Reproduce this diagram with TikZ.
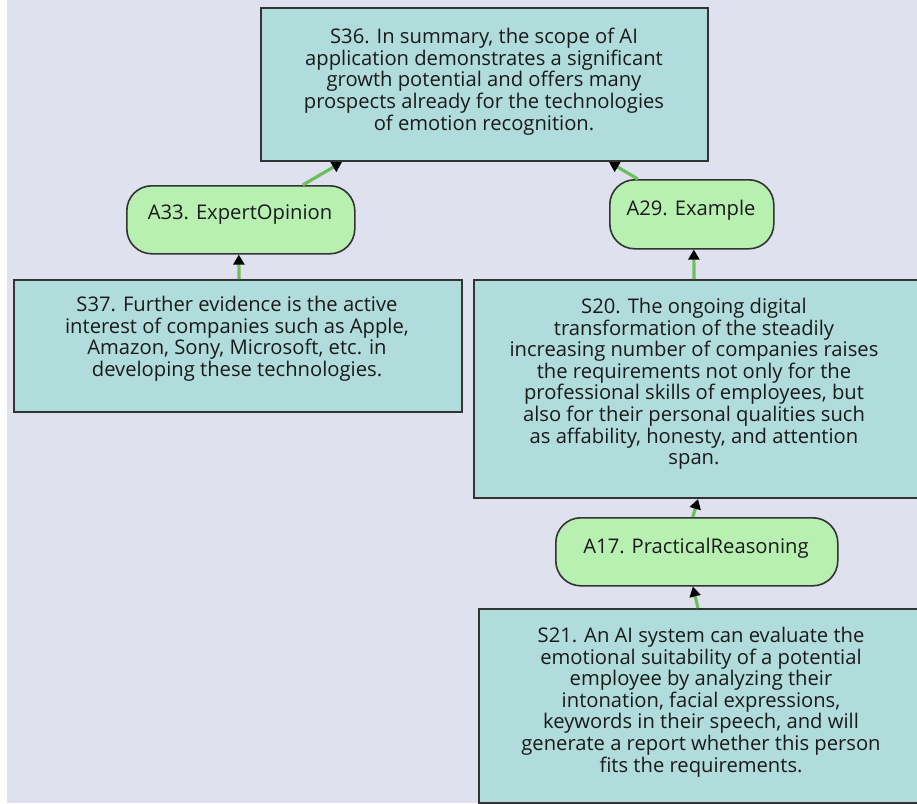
\documentclass[tikz,border=0pt]{standalone}
\usepackage{fontspec}
\setmainfont{Open Sans}
\usetikzlibrary{arrows.meta,calc}
\definecolor{bgcol}{HTML}{DFE2EE}
\definecolor{stmtfill}{HTML}{B1DCDC}
\definecolor{argfill}{HTML}{B8F0B2}
\definecolor{edgecol}{HTML}{6CC05C}
\definecolor{linecol}{HTML}{333333}
\definecolor{txtcol}{HTML}{1A1A1A}
\tikzset{
  stmtbox/.style={draw=linecol, line width=2pt, fill=stmtfill, rectangle, inner sep=0pt},
  argbox/.style={draw=linecol, line width=1.6pt, fill=argfill, rectangle, rounded corners=25pt, inner sep=0pt},
  stmttext/.style={align=center, anchor=north, text=txtcol, inner sep=0pt,
    font=\fontsize{20.2pt}{21.6pt}\selectfont},
  argtext/.style={text=txtcol, inner sep=0pt, font=\fontsize{20.2pt}{21.6pt}\selectfont},
  conn/.style={draw=edgecol, line width=3.2pt, -{Triangle[length=10pt,width=11pt,color=black]}},
}
\begin{document}
\begin{tikzpicture}[x=1pt,y=-1pt]
\useasboundingbox (0,0) rectangle (917,803);
\fill[white] (0,0) rectangle (917,803);
\fill[bgcol] (7,0) rectangle (917,803);

% statement boxes
\node[stmtbox, anchor=north west, minimum width=447pt, minimum height=153pt] (s36) at (260,7) {};
\node[stmtbox, anchor=north west, minimum width=448pt, minimum height=132pt] (s37) at (13,279) {};
\node[stmtbox, anchor=north west, minimum width=444pt, minimum height=218pt] (s20) at (473,279) {};
\node[stmtbox, anchor=north west, minimum width=446pt, minimum height=194pt] (s21) at (478,608) {};

% argument boxes
\node[argbox, anchor=north west, minimum width=228pt, minimum height=68pt] (a33) at (126,185) {};
\node[argbox, anchor=north west, minimum width=164pt, minimum height=69pt] (a29) at (609,179) {};
\node[argbox, anchor=north west, minimum width=282pt, minimum height=68pt] (a17) at (555,517) {};

% texts
\node[stmttext] (t36) at (484,28) {S36. In summary, the scope of AI\\application demonstrates a significant\\growth potential and offers many\\prospects already for the technologies\\of emotion recognition.};
\node[stmttext] (t37) at (237,296) {S37. Further evidence is the active\\interest of companies such as Apple,\\Amazon, Sony, Microsoft, etc. in\\developing these technologies.};
\node[stmttext] (t20) at (694,298) {S20. The ongoing digital\\transformation of the steadily\\increasing number of companies raises\\the requirements not only for the\\professional skills of employees, but\\also for their personal qualities such\\as affability, honesty, and attention\\span.};
\node[stmttext] (t21) at (701,627) {S21. An AI system can evaluate the\\emotional suitability of a potential\\employee by analyzing their\\intonation, facial expressions,\\keywords in their speech, and will\\generate a report whether this person\\fits the requirements.};
\node[argtext] (l33) at (240,215) {A33. ExpertOpinion};
\node[argtext] (l29) at (691,210) {A29. Example};
\node[argtext] (l17) at (696,548) {A17. PracticalReasoning};

% connectors
\draw[conn] ([xshift=62pt]a33.north) -- ([xshift=-142.5pt]s36.south);
\draw[conn] ([xshift=-54pt]a29.north) -- ([xshift=124.5pt]s36.south);
\draw[conn] ([xshift=1pt]s37.north) -- ([xshift=-2pt]a33.south);
\draw[conn] ([xshift=-2pt]s20.north) -- ([xshift=2pt]a29.south);
\draw[conn] ([xshift=-4pt]a17.north) -- ([xshift=2pt]s20.south);
\draw[conn] ([xshift=-4pt]s21.north) -- ([xshift=-4pt]a17.south);
\end{tikzpicture}
\end{document}
